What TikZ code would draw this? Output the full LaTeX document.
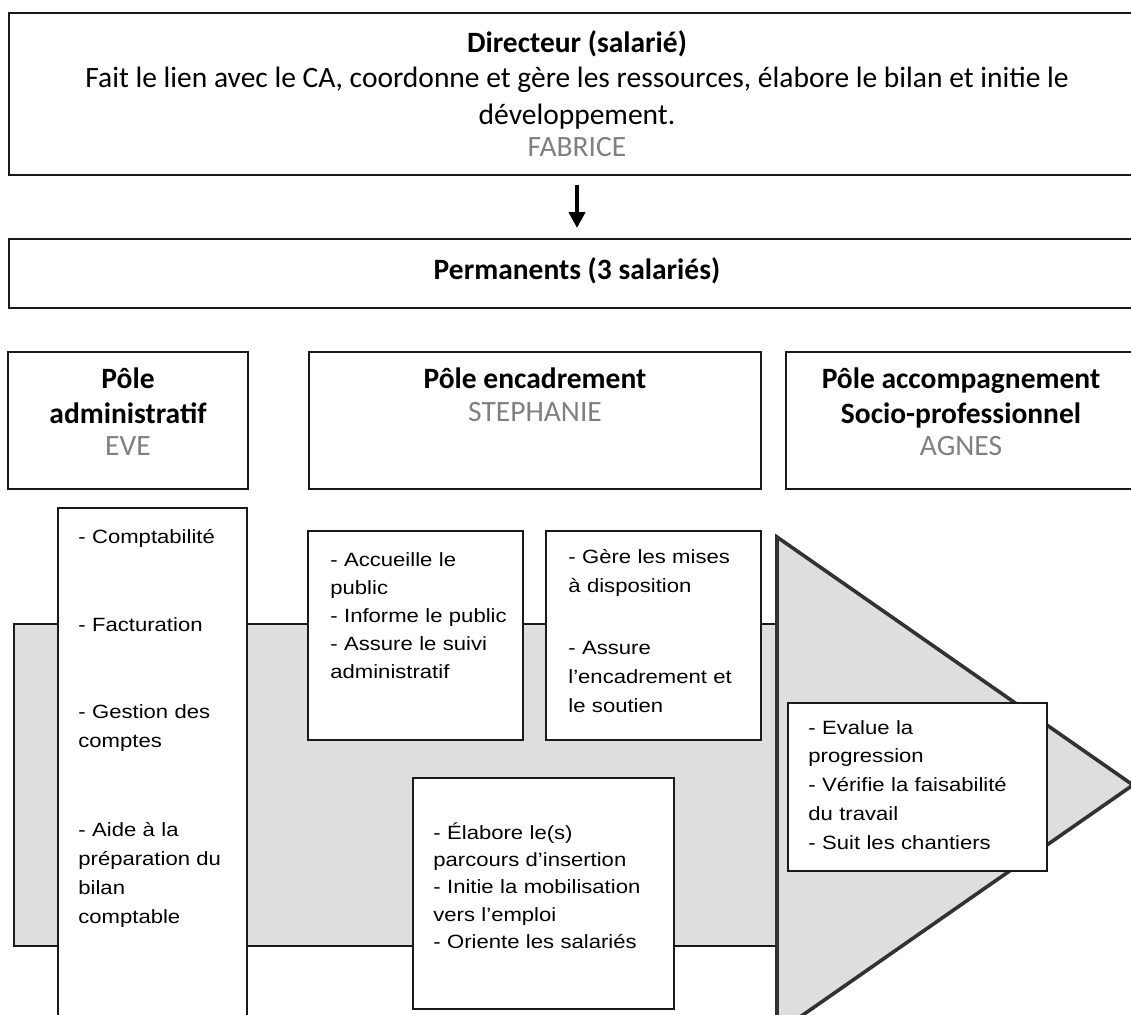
\documentclass[tikz,border=0pt]{standalone}
\usepackage{fontspec}
\setmainfont{Carlito}
\newfontfamily\lowfont[FakeStretch=1.15]{Liberation Sans}
\usetikzlibrary{arrows.meta,fit}
\definecolor{bandgray}{RGB}{222,222,222}
\definecolor{namegray}{RGB}{128,128,128}
\definecolor{linecol}{RGB}{25,25,25}
\definecolor{tricol}{RGB}{50,50,50}
\begin{document}
\begin{tikzpicture}[x=0.5pt,y=-0.5pt,
  topbox/.style={draw=linecol, line width=1pt, inner sep=0pt, fill=white},
  lowbox/.style={draw=linecol, line width=0.8pt, inner sep=0pt, fill=white},
  headtxt/.style={inner sep=0pt, anchor=base, font=\fontsize{14.75pt}{17pt}\selectfont\bfseries},
  bodytxt/.style={inner sep=0pt, anchor=base, font=\fontsize{14.75pt}{17pt}\selectfont},
  nametxt/.style={inner sep=0pt, anchor=base, text=namegray, font=\fontsize{14.75pt}{17pt}\selectfont},
  lowtxt/.style={inner sep=0pt, anchor=base west, align=left, text width=110pt, font=\lowfont\fontsize{9.6pt}{#1}\selectfont},
  lowtxt/.default=14.5pt,
  headarrow/.style={-{Triangle[length=8pt,width=8pt]}, line width=2pt, draw=black}
]
\useasboundingbox (0,0) rectangle (1131,1014);
\clip (0,0) rectangle (1131,1014);

% Directeur
\node[topbox, fit={(9,13)(1145,175)}] (dir) {};
\node[headtxt] (dirt1) at (577,52) {Directeur (salarié)};
\node[bodytxt] (dirt2) at (577,87) {Fait le lien avec le CA, coordonne et gère les ressources, élabore le bilan et initie le};
\node[bodytxt] (dirt3) at (577,124) {développement.};
\node[nametxt] (dirt4) at (577,156) {FABRICE};

% Permanents
\node[topbox, fit={(9,239)(1145,308)}] (perm) {};
\node[headtxt] (permt) at (577,279) {Permanents (3 salariés)};
\draw[headarrow, shorten <=4.5pt, shorten >=5pt] (dir.south) -- (perm.north);

% Poles
\node[topbox, fit={(8,352)(248,489)}] (padm) {};
\node[headtxt] (padm1) at (128,388) {Pôle};
\node[headtxt] (padm2) at (128,423) {administratif};
\node[nametxt] (padm3) at (128,455) {EVE};

\node[topbox, fit={(309,352)(761,489)}] (penc) {};
\node[headtxt] (penc1) at (535,388) {Pôle encadrement};
\node[nametxt] (penc2) at (535,421) {STEPHANIE};

\node[topbox, fit={(786,352)(1137,489)}] (pacc) {};
\node[headtxt] (pacc1) at (961,388) {Pôle accompagnement};
\node[headtxt] (pacc2) at (961,423) {Socio-professionnel};
\node[nametxt] (pacc3) at (961,455) {AGNES};

% band and arrow head
\draw[fill=bandgray, draw=linecol, line width=0.6pt] (14,624) rectangle (790,946);
\draw[fill=bandgray, draw=tricol, line width=1.8pt, line join=miter] (777,537) -- (1133,785) -- (777,1033) -- cycle;

% lower boxes
\node[lowbox, fit={(58,508)(247,1030)}] (bcomp) {};
\node[lowbox, fit={(308,531)(523,740)}] (bacc) {};
\node[lowbox, fit={(546,531)(761,740)}] (bger) {};
\node[lowbox, fit={(413,778)(674,1009)}] (bela) {};
\node[lowbox, fit={(788,703)(1047,871)}] (beva) {};

\node[lowtxt] (tcomp1) at (78,543) {- Comptabilité};
\node[lowtxt] (tcomp2) at (78,631) {- Facturation};
\node[lowtxt] (tcomp3) at (78,718) {- Gestion des\\comptes};
\node[lowtxt] (tcomp4) at (78,836) {- Aide à la\\préparation du\\bilan\\comptable};

\node[lowtxt=14pt] (tacc) at (330,566) {- Accueille le\\public\\- Informe le public\\- Assure le suivi\\administratif};

\node[lowtxt] (tger1) at (568,563) {- Gère les mises\\à disposition};
\node[lowtxt] (tger2) at (568,654) {- Assure\\l’encadrement et\\le soutien};

\node[lowtxt=13.7pt] (tela) at (433,839) {- Élabore le(s)\\parcours d’insertion\\- Initie la mobilisation\\vers l’emploi\\- Oriente les salariés};

\node[lowtxt=14.4pt] (teva) at (808,734) {- Evalue la\\progression\\- Vérifie la faisabilité\\du travail\\- Suit les chantiers};
\end{tikzpicture}
\end{document}
